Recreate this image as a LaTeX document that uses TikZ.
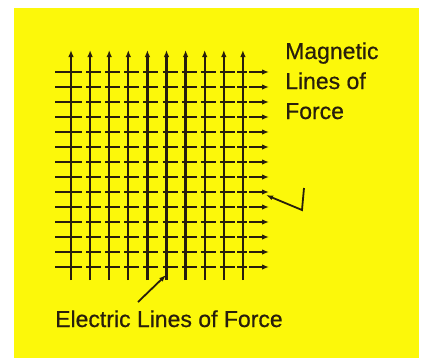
\documentclass[tikz,border=0pt]{standalone}
\usepackage{fontspec}
\setmainfont{Liberation Sans}[FakeBold=0.6]
\usetikzlibrary{arrows.meta}
\definecolor{bgyellow}{RGB}{252,248,10}
\definecolor{ink}{RGB}{40,30,12}
\begin{document}
\begin{tikzpicture}[x=1pt,y=-1pt,
  ink line/.style={draw=ink,line width=2.3pt},
  tip/.style={-{Latex[length=7pt,width=5.5pt]}},
  label text/.style={inner sep=0pt,anchor=base west,text=ink,font=\fontsize{23}{30}\selectfont,align=left}]
\useasboundingbox (0,0) rectangle (429,360);
\fill[white] (0,0) rectangle (429,360);
\fill[bgyellow] (14,8) rectangle (419,358);
% vertical electric lines
\foreach \i in {0,...,9}{
  \draw[ink line,tip] ({71+19.1*\i},280) -- ({71+19.1*\i},50);
}
% horizontal magnetic dashes
\foreach \j in {0,...,13}{
  \pgfmathsetmacro{\yy}{72+15*\j}
  \draw[ink line] (55,\yy) -- (67,\yy);
  \foreach \i in {0,...,8}{
    \draw[ink line] ({71+19.1*\i-4},\yy) -- ({71+19.1*\i+11},\yy);
  }
  \draw[ink line] (237,\yy) -- (247,\yy);
  \draw[ink line,tip] (249,\yy) -- (269,\yy);
}
% labels
\node[label text] (mag) at (285,119) {Magnetic\\Lines of\\Force};
\node[label text] (ele) at (55,327) {Electric Lines of Force};
% pointers
\coordinate (mA) at (304,188);
\coordinate (mB) at (302,210);
\coordinate (mC) at (266,195);
\draw[draw=ink,line width=1.8pt,-{Latex[length=7pt,width=5pt]}] (mA) -- (mB) -- (mC);
\coordinate (eA) at (138,302);
\coordinate (eB) at (166,275);
\draw[draw=ink,line width=1.8pt,-{Latex[length=7pt,width=5pt]}] (eA) -- (eB);
\end{tikzpicture}
\end{document}
